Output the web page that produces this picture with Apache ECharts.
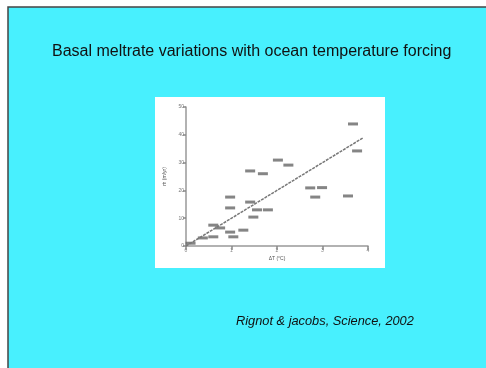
<!DOCTYPE html>
<html>
<head>
<meta charset="utf-8">
<script src="https://cdn.jsdelivr.net/npm/echarts@6/dist/echarts.min.js"></script>
<style>
  html, body { margin: 0; padding: 0; background: #fff; }
  #chart { width: 486px; height: 368px; }
</style>
</head>
<body>
<div id="chart"></div>
<script>
// Glacier points: [deltaT (°C), melt rate (m/yr)]
const glacierPoints = [
    [3.67, 43.9], [3.76, 34.2], [2.02, 30.9], [2.25, 29.1], [1.41, 27.0],
    [1.69, 26.0], [2.73, 20.9], [2.99, 21.0], [2.84, 17.6], [3.56, 18.0],
    [0.97, 17.6], [0.97, 13.7], [1.41, 15.8], [1.56, 13.0], [1.80, 13.0],
    [1.48, 10.4], [0.60, 7.5], [0.75, 6.5], [0.97, 5.0], [1.26, 5.7],
    [0.37, 2.9], [0.60, 3.3], [1.04, 3.3], [0.10, 1.0]
];
// Fit line endpoints
const fitLine = [[0, 0], [3.9, 39]];
const xTicks = ["0", "1", "2", "3", "4"];
const yTicks = ["0", "10", "20", "30", "40", "50"];

const chart = echarts.init(document.getElementById("chart"));
chart.setOption({
    animation: false,
    graphic: [
        { type: "rect", z: -10, shape: { x: 8, y: 7, width: 490, height: 370 }, style: { fill: "#48F0FE", stroke: "#444", lineWidth: 1.5 } },
        { type: "rect", z: -9, shape: { x: 155, y: 97, width: 230, height: 171 }, style: { fill: "#ffffff" } },
        { type: "text", left: 236, top: 315, style: { text: "Rignot & jacobs, Science, 2002", font: "italic 12.8px 'Liberation Sans', Arial, sans-serif", fill: "#111" } }
    ],
    title: {
        text: "Basal meltrate variations with ocean temperature forcing",
        left: 52,
        top: 44,
        textStyle: { fontFamily: "'Liberation Sans', Arial, sans-serif", fontSize: 16, fontWeight: "normal", color: "#111" },
        padding: 0
    },
    grid: { left: 186, top: 107, right: 118, bottom: 122 },
    xAxis: {
        type: "value", min: 0, max: 4, interval: 1,
        name: "ΔT (°C)", nameLocation: "middle", nameGap: 10,
        nameTextStyle: { fontSize: 5, color: "#555" },
        axisLine: { lineStyle: { color: "#999", width: 1.5 } },
        axisTick: { show: true, length: 4, inside: false, lineStyle: { color: "#888", width: 1.5 } },
        axisLabel: { fontSize: 5, color: "#888", margin: 2, formatter: (v) => xTicks[v] },
        splitLine: { show: false }
    },
    yAxis: {
        type: "value", min: 0, max: 50, interval: 10,
        name: "ṁ (m/yr)", nameLocation: "middle", nameGap: 19,
        nameTextStyle: { fontSize: 5, color: "#555" },
        axisLine: { show: true, lineStyle: { color: "#999", width: 1.5 } },
        axisTick: { show: true, length: 3, lineStyle: { color: "#888", width: 1.5 } },
        axisLabel: { fontSize: 5, color: "#777", margin: 2, formatter: (v) => yTicks[v / 10] },
        splitLine: { show: false }
    },
    series: [
        {
            type: "line",
            data: fitLine,
            symbol: "none",
            lineStyle: { color: "#777", width: 1.5, type: [3, 1] }
        },
        {
            type: "scatter",
            data: glacierPoints,
            symbol: "rect",
            symbolSize: [10, 3],
            itemStyle: { color: "#666", opacity: 0.8 }
        }
    ]
});
</script>
</body>
</html>
